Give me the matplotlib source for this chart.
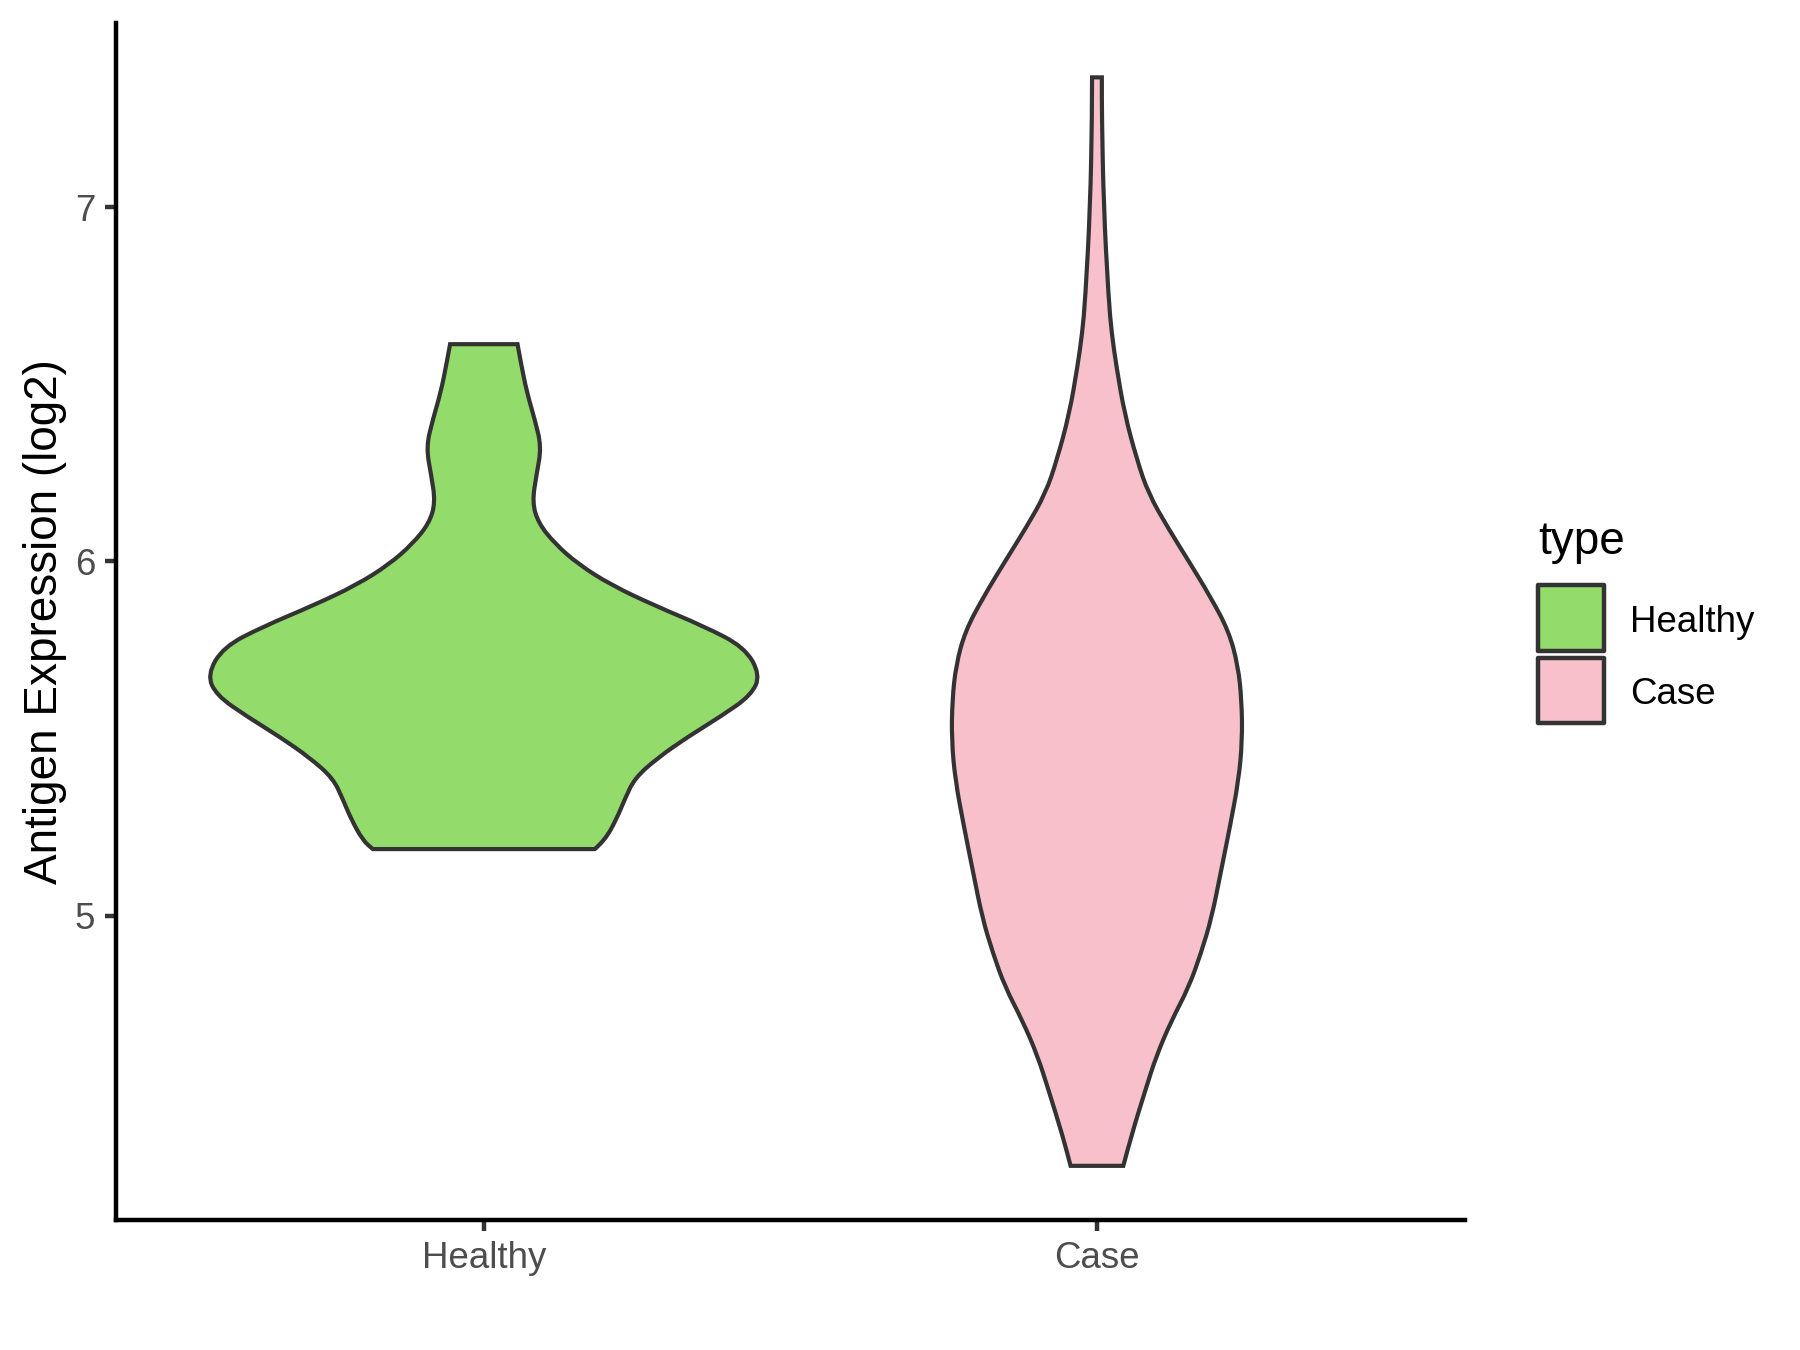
import matplotlib
matplotlib.use("Agg")
import matplotlib.pyplot as plt
from matplotlib.path import Path
from matplotlib.patches import PathPatch, Rectangle
import numpy as np

plt.rcParams['font.family'] = ['Liberation Sans', 'DejaVu Sans']

groups = ['Healthy', 'Case']
colors = ['#93DB6A', '#F8C0CB']

# violin outlines: expression level -> half width (x units)
healthy_expr = [6.613, 6.556, 6.479, 6.401, 6.323, 6.245, 6.167, 6.108, 6.050, 5.992,
                5.933, 5.875, 5.816, 5.758, 5.680, 5.622, 5.563, 5.505, 5.446, 5.388,
                5.329, 5.271, 5.212, 5.188]
healthy_halfwidth = [0.055, 0.061, 0.070, 0.083, 0.094, 0.086, 0.079, 0.089, 0.116, 0.154,
                     0.208, 0.279, 0.360, 0.425, 0.451, 0.436, 0.387, 0.333, 0.284, 0.246,
                     0.230, 0.216, 0.197, 0.181]

case_expr = [7.366, 7.26, 7.0, 6.741, 6.644, 6.547, 6.417, 6.288, 6.191, 6.094,
             5.997, 5.900, 5.803, 5.706, 5.608, 5.495, 5.382, 5.252, 5.123, 4.994,
             4.896, 4.799, 4.702, 4.605, 4.508, 4.379, 4.294]
case_halfwidth = [0.008, 0.008, 0.011, 0.019, 0.024, 0.032, 0.045, 0.065, 0.084, 0.116,
                  0.151, 0.185, 0.215, 0.230, 0.236, 0.237, 0.231, 0.217, 0.202, 0.187,
                  0.170, 0.150, 0.121, 0.097, 0.079, 0.056, 0.043]

yticks = [5, 6, 7]
ylabel = 'Antigen Expression (log2)'
legend_title = 'type'


def side(xs, ys):
    # quadratic curves through midpoints so the outline is smooth
    verts, codes = [], []
    for i in range(1, len(xs) - 1):
        verts += [(xs[i], ys[i]), ((xs[i] + xs[i + 1]) / 2, (ys[i] + ys[i + 1]) / 2)]
        codes += [Path.CURVE3, Path.CURVE3]
    verts.append((xs[-1], ys[-1]))
    codes.append(Path.LINETO)
    return verts, codes


def violin_path(pos, expr, hw):
    expr = np.array(expr)
    hw = np.array(hw)
    lx, rx = pos - hw, pos + hw
    verts = [(lx[0], expr[0])]
    codes = [Path.MOVETO]
    v, c = side(lx, expr)
    verts += v; codes += c
    verts.append((rx[-1], expr[-1])); codes.append(Path.LINETO)
    v, c = side(rx[::-1], expr[::-1])
    verts += v; codes += c
    verts.append((lx[0], expr[0])); codes.append(Path.CLOSEPOLY)
    return Path(verts, codes)


fig = plt.figure(figsize=(6, 4.5), dpi=300)
ax = fig.add_axes([0.0644, 0.0961, 0.7494, 0.8869])

data = [(healthy_expr, healthy_halfwidth), (case_expr, case_halfwidth)]
for i, ((expr, hw), col) in enumerate(zip(data, colors)):
    ax.add_patch(PathPatch(violin_path(i + 1, expr, hw), facecolor=col,
                           edgecolor='#333333', linewidth=1.0, joinstyle='miter'))

lo = min(min(e) for e, _ in data)
hi = max(max(e) for e, _ in data)
pad = (hi - lo) * 0.05
ax.set_ylim(lo - pad, hi + pad)
ax.set_xlim(0.4, 2.6)
ax.set_xticks([1, 2])
ax.set_xticklabels(groups)
ax.set_yticks(yticks)
ax.set_ylabel(ylabel, fontsize=11, labelpad=2)

for s in ['top', 'right']:
    ax.spines[s].set_visible(False)
for s in ['left', 'bottom']:
    ax.spines[s].set_linewidth(1.07)
    ax.spines[s].set_color('black')
ax.tick_params(length=2.75, width=1.07, color='#333333', labelsize=8.8,
               labelcolor='#4D4D4D', pad=2.2)

# legend drawn by hand to get ggplot-like square keys
key_x, key_w, key_h = 0.8546, 0.03635, 0.04847
key_tops = [0.5663, 0.5128]
for g, c, top in zip(groups, colors, key_tops):
    fig.add_artist(Rectangle((key_x, top - key_h), key_w, key_h, transform=fig.transFigure,
                             facecolor=c, edgecolor='#333333', linewidth=1.07,
                             joinstyle='round'))
    fig.text(0.9056, top - key_h / 2 - 0.003, g, fontsize=8.8, va='center', ha='left')
fig.text(0.8546, 0.5893, legend_title, fontsize=11, va='baseline', ha='left')

fig.savefig('out.png', dpi=300)
